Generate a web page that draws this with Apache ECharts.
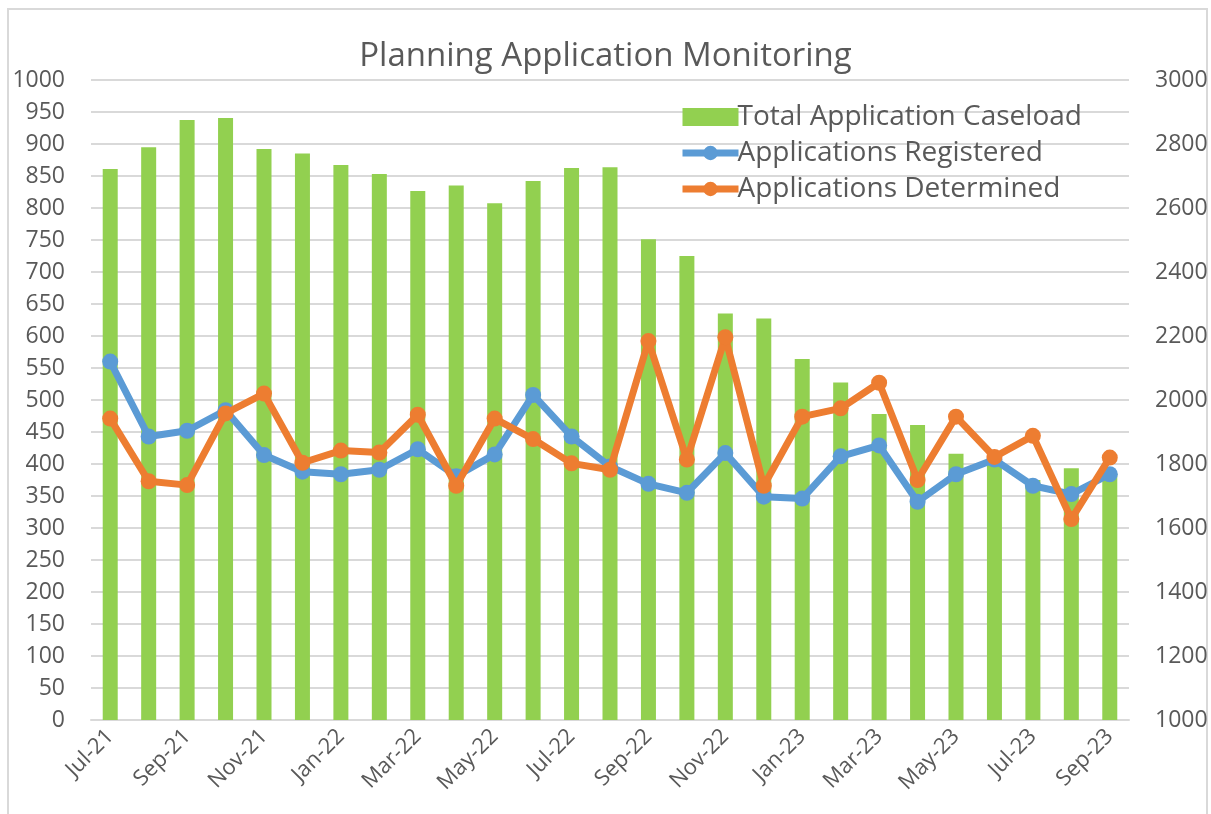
<!DOCTYPE html>
<html>
<head>
<meta charset="utf-8">
<script src="https://cdn.jsdelivr.net/npm/echarts@6/dist/echarts.min.js"></script>
<style>
    html, body { margin: 0; padding: 0; background: #fff; overflow: hidden; }
    .frame {
        position: absolute;
        left: 7px;
        top: 8px;
        width: 1201px;
        height: 830px;
        border: 2px solid #d9d9d9;
        box-sizing: border-box;
    }
    #chart { position: absolute; left: 0; top: 0; width: 1211px; height: 814px; }
</style>
</head>
<body>
<div class="frame"></div>
<div id="chart"></div>
<script>
// months shown on the category axis
const months = [
    'Jul-21', 'Aug-21', 'Sep-21', 'Oct-21', 'Nov-21', 'Dec-21',
    'Jan-22', 'Feb-22', 'Mar-22', 'Apr-22', 'May-22', 'Jun-22',
    'Jul-22', 'Aug-22', 'Sep-22', 'Oct-22', 'Nov-22', 'Dec-22',
    'Jan-23', 'Feb-23', 'Mar-23', 'Apr-23', 'May-23', 'Jun-23',
    'Jul-23', 'Aug-23', 'Sep-23'
];

// total caseload (right axis)
const caseload = [
    2722, 2790, 2875, 2881, 2784, 2770,
    2734, 2706, 2653, 2670, 2615, 2684,
    2725, 2727, 2502, 2450, 2270, 2255,
    2128, 2055, 1956, 1922, 1832, 1810,
    1750, 1787, 1770
];

// applications registered (left axis)
const registered = [
    560, 443, 452, 484, 414, 388,
    384, 391, 423, 381, 415, 508,
    443, 396, 369, 355, 417, 349,
    346, 412, 429, 341, 384, 407,
    366, 353, 384
];

// applications determined (left axis)
const determined = [
    471, 373, 367, 479, 510, 402,
    421, 418, 477, 366, 471, 439,
    401, 391, 592, 407, 598, 366,
    474, 487, 527, 375, 474, 411,
    444, 314, 410
];

const textColor = '#595959';
const gridColor = '#d9d9d9';
const fontName = '"Open Sans", sans-serif';
const plain = (v) => String(v);

const myChart = echarts.init(document.getElementById('chart'));

const option = {
    animation: false,
    textStyle: { fontFamily: fontName },
    title: {
        text: 'Planning Application Monitoring',
        left: 'center',
        top: 35,
        textStyle: {
            color: textColor,
            fontSize: 33,
            fontWeight: 'normal',
            fontFamily: fontName
        }
    },
    legend: {
        orient: 'vertical',
        left: 674,
        top: 98,
        itemWidth: 56,
        itemHeight: 18,
        itemGap: 8,
        textStyle: {
            color: textColor,
            fontSize: 28,
            fontFamily: fontName,
            padding: [0, 0, 0, -6]
        },
        data: [
            { name: 'Total Application Caseload', icon: 'rect' },
            { name: 'Applications Registered', lineStyle: { width: 7 } },
            { name: 'Applications Determined', lineStyle: { width: 7 } }
        ]
    },
    grid: {
        left: 91,
        right: 82,
        top: 80,
        bottom: 94,
        containLabel: false
    },
    xAxis: {
        type: 'category',
        data: months,
        axisLine: { show: true, lineStyle: { color: gridColor, width: 2 } },
        axisTick: { show: false },
        axisLabel: {
            interval: 1,
            rotate: 45,
            color: textColor,
            fontSize: 22,
            margin: 13
        },
        splitLine: { show: false }
    },
    yAxis: [
        {
            type: 'value',
            min: 0,
            max: 1000,
            interval: 50,
            axisLine: { show: false },
            axisTick: { show: false },
            axisLabel: { color: textColor, fontSize: 23, margin: 26, formatter: plain },
            splitLine: { show: true, lineStyle: { color: gridColor, width: 2 } }
        },
        {
            type: 'value',
            min: 1000,
            max: 3000,
            interval: 200,
            axisLine: { show: false },
            axisTick: { show: false },
            axisLabel: { color: textColor, fontSize: 23, margin: 26, formatter: plain },
            splitLine: { show: false }
        }
    ],
    series: [
        {
            name: 'Total Application Caseload',
            type: 'bar',
            yAxisIndex: 1,
            barWidth: 15,
            itemStyle: { color: '#92D050' },
            z: 1,
            data: caseload
        },
        {
            name: 'Applications Registered',
            type: 'line',
            yAxisIndex: 0,
            symbol: 'circle',
            symbolSize: 16,
            lineStyle: { color: '#5B9BD5', width: 7 },
            itemStyle: { color: '#5B9BD5' },
            z: 3,
            data: registered
        },
        {
            name: 'Applications Determined',
            type: 'line',
            yAxisIndex: 0,
            symbol: 'circle',
            symbolSize: 16,
            lineStyle: { color: '#ED7D31', width: 7 },
            itemStyle: { color: '#ED7D31' },
            z: 4,
            data: determined
        }
    ]
};

myChart.setOption(option);
</script>
</body>
</html>
